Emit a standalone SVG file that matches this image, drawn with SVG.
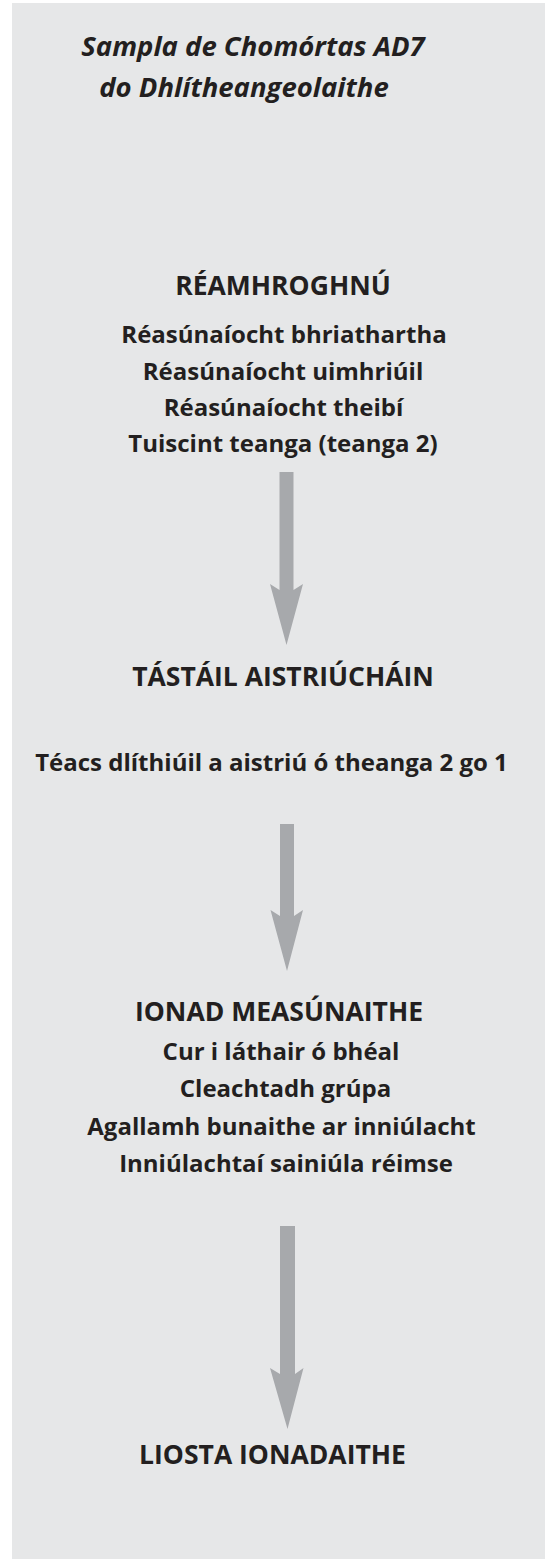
<svg xmlns="http://www.w3.org/2000/svg" width="547" height="1559" viewBox="0 0 547 1559">
<style>
.t{font-family:"Open Sans",Lato,"Liberation Sans",sans-serif;font-weight:bold;fill:#231f20;text-anchor:middle}
.title{font-size:27.5px;font-style:italic}
.h{font-size:26.5px}
.b{font-size:24px}
.arr{fill:#a7a9ac}
</style>
<rect x="0" y="0" width="547" height="1559" fill="#ffffff"/>
<rect x="12" y="3" width="533" height="1556" fill="#e6e7e8"/>
<g id="title">
<text class="t title" x="253" y="56">Sampla de Chomórtas AD7</text>
<text class="t title" x="244" y="97">do Dhlítheangeolaithe</text>
</g>
<g id="reamhroghnu">
<text class="t h" x="283" y="295">RÉAMHROGHNÚ</text>
<text class="t b" x="284" y="343">Réasúnaíocht bhriathartha</text>
<text class="t b" x="283" y="380">Réasúnaíocht uimhriúil</text>
<text class="t b" x="283.5" y="416">Réasúnaíocht theibí</text>
<text class="t b" x="283" y="452">Tuiscint teanga (teanga 2)</text>
</g>
<g id="tastail">
<text class="t h" x="283" y="686">TÁSTÁIL AISTRIÚCHÁIN</text>
<text class="t b" x="271.5" y="771">Téacs dlíthiúil a aistriú ó theanga 2 go 1</text>
</g>
<g id="ionad">
<text class="t h" x="279" y="1021">IONAD MEASÚNAITHE</text>
<text class="t b" x="281" y="1060">Cur i láthair ó bhéal</text>
<text class="t b" x="285.5" y="1097">Cleachtadh grúpa</text>
<text class="t b" x="281.5" y="1135">Agallamh bunaithe ar inniúlacht</text>
<text class="t b" x="286" y="1172">Inniúlachtaí sainiúla réimse</text>
</g>
<g id="liosta">
<text class="t h" x="272.5" y="1464">LIOSTA IONADAITHE</text>
</g>
<g id="connectors">
<polygon class="arr" points="279.5,472 293.5,472 293.5,590 303,584 286.5,645 270,584 279.5,590"/>
<polygon class="arr" points="280,824 294,824 294,916 303,910 287,971 270.5,910 280,916"/>
<polygon class="arr" points="280,1226 295,1226 295,1374 303.5,1368 287.5,1429 270,1368 280,1374"/>
</g>
</svg>
